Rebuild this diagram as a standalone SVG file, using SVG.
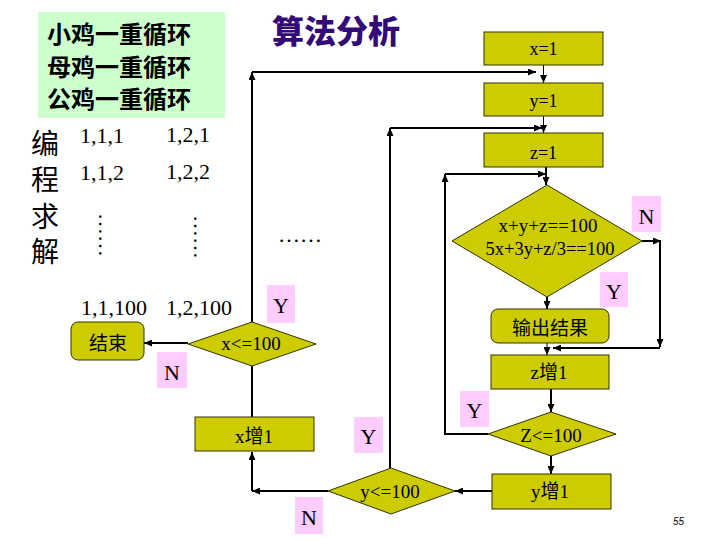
<svg xmlns="http://www.w3.org/2000/svg" width="720" height="540" viewBox="0 0 720 540">
<defs>
<marker id="ah" viewBox="0 0 8 7" refX="8" refY="3.5" markerWidth="8" markerHeight="7" markerUnits="userSpaceOnUse" orient="auto">
<path d="M0,0 L8,3.5 L0,7 z" fill="#000"/>
</marker>
</defs>
<style>
.box{fill:#CCCC00;stroke:#333300;stroke-width:1}
.lbl{fill:#FFCCFF}
.t{font-family:"Liberation Serif","Noto Sans CJK SC",serif;fill:#000;text-anchor:middle}
.cj{font-family:"Liberation Serif","Noto Sans CJK SC",sans-serif;fill:#000}
.num{font-family:"Liberation Serif",serif;font-size:22px;fill:#000}
.c{fill:none;stroke:#000;stroke-width:2}
.c1{fill:none;stroke:#000;stroke-width:1}
.a{marker-end:url(#ah)}
</style>
<rect width="720" height="540" fill="#fff"/>

<g id="green-note">
<rect x="38" y="12" width="187" height="106" fill="#CCFFCC"/>
<text x="47" y="43" font-family="'Noto Sans CJK SC',sans-serif" font-weight="bold" font-size="24">小鸡一重循环</text>
<text x="47" y="76" font-family="'Noto Sans CJK SC',sans-serif" font-weight="bold" font-size="24">母鸡一重循环</text>
<text x="47" y="108" font-family="'Noto Sans CJK SC',sans-serif" font-weight="bold" font-size="24">公鸡一重循环</text>
</g>
<g id="title">
<text x="272" y="43" font-family="'Noto Sans CJK SC',sans-serif" font-weight="900" font-size="32" fill="#330A77">算法分析</text>
</g>
<g id="side-text">
<text x="31" y="154" class="cj" font-size="28">编</text>
<text x="31" y="190" class="cj" font-size="28">程</text>
<text x="31" y="227" class="cj" font-size="28">求</text>
<text x="31" y="262" class="cj" font-size="28">解</text>
<text x="80" y="143" class="num">1,1,1</text>
<text x="166" y="142" class="num">1,2,1</text>
<text x="80" y="180" class="num">1,1,2</text>
<text x="166" y="179" class="num">1,2,2</text>
<text x="0" y="0" class="num" font-size="20" transform="translate(99,213) rotate(90)">……</text>
<text x="0" y="0" class="num" font-size="20" transform="translate(194,215) rotate(90)">……</text>
<text x="278" y="242" class="num" font-size="21">……</text>
<text x="81" y="315" class="num">1,1,100</text>
<text x="166" y="315" class="num">1,2,100</text>
</g>

<g id="connectors">
<line class="c1 a" x1="543.5" y1="65" x2="543.5" y2="83"/>
<line class="c1 a" x1="543.5" y1="116" x2="543.5" y2="133"/>
<line class="c a" x1="546" y1="167" x2="546" y2="185"/>
<line class="c a" x1="547" y1="297" x2="547" y2="309"/>
<line class="c1 a" x1="547" y1="343" x2="547" y2="355"/>
<line class="c a" x1="551" y1="389" x2="551" y2="412"/>
<line class="c a" x1="551" y1="456" x2="551" y2="474"/>
<line class="c a" x1="492" y1="491" x2="455" y2="491"/>
<line class="c a" x1="328" y1="491" x2="252" y2="491"/>
<line class="c a" x1="252" y1="491" x2="252" y2="452"/>
<line class="c" x1="252" y1="417" x2="252" y2="366"/>
<line class="c a" x1="252" y1="322" x2="252" y2="72"/>
<line class="c a" x1="252" y1="72" x2="536" y2="72"/>
<line class="c a" x1="188" y1="343" x2="144" y2="343"/>
<line class="c a" x1="390" y1="468" x2="390" y2="128"/>
<line class="c a" x1="390" y1="128" x2="542" y2="128"/>
<polyline class="c a" points="488,434 445,434 445,174"/>
<line class="c a" x1="445" y1="174" x2="546" y2="174"/>
<line class="c a" x1="642" y1="241" x2="661" y2="241"/>
<line class="c a" x1="660" y1="241" x2="660" y2="347"/>
<line class="c a" x1="660" y1="348" x2="553" y2="348"/>
</g>

<g id="node-x1">
<rect class="box" x="484" y="32" width="119" height="33"/>
<text class="t" x="543.5" y="55" font-size="18">x=1</text>
</g>
<g id="node-y1">
<rect class="box" x="484" y="83" width="119" height="33"/>
<text class="t" x="543.5" y="107" font-size="18">y=1</text>
</g>
<g id="node-z1">
<rect class="box" x="484" y="133" width="119" height="34"/>
<text class="t" x="543.5" y="159" font-size="18">z=1</text>
</g>
<g id="node-check">
<polygon class="box" points="547,185 642,241 547,297 452,241"/>
<text class="t" x="548" y="232" font-size="19">x+y+z==100</text>
<text class="t" x="550" y="255" font-size="18.5">5x+3y+z/3==100</text>
</g>
<g id="label-N1">
<rect class="lbl" x="632" y="196" width="29" height="36"/>
<text class="t" x="646.5" y="224" font-size="22">N</text>
</g>
<g id="label-Y1">
<rect class="lbl" x="600" y="272" width="28" height="35"/>
<text class="t" x="614" y="299" font-size="22">Y</text>
</g>
<g id="node-output">
<rect class="box" x="491" y="309" width="118" height="34" rx="7"/>
<text class="t" x="550" y="335" font-size="19">输出结果</text>
</g>
<g id="node-zinc">
<rect class="box" x="491" y="355" width="118" height="34"/>
<text class="t" x="549" y="379" font-size="19">z增1</text>
</g>
<g id="node-zcheck">
<polygon class="box" points="551,412 616,434 551,456 488,434"/>
<text class="t" x="551" y="442" font-size="19">Z&lt;=100</text>
</g>
<g id="label-Y2">
<rect class="lbl" x="460" y="391" width="29" height="36"/>
<text class="t" x="474.5" y="418" font-size="22">Y</text>
</g>
<g id="node-yinc">
<rect class="box" x="492" y="474" width="119" height="35"/>
<text class="t" x="550" y="498" font-size="19">y增1</text>
</g>
<g id="node-ycheck">
<polygon class="box" points="391,468 455,491 391,514 328,491"/>
<text class="t" x="390" y="498" font-size="19">y&lt;=100</text>
</g>
<g id="label-Y3">
<rect class="lbl" x="354" y="417" width="29" height="36"/>
<text class="t" x="368.5" y="444" font-size="22">Y</text>
</g>
<g id="label-N3">
<rect class="lbl" x="295" y="497" width="28" height="37"/>
<text class="t" x="309" y="525" font-size="22">N</text>
</g>
<g id="node-xinc">
<rect class="box" x="195" y="417" width="119" height="34"/>
<text class="t" x="254" y="443" font-size="19">x增1</text>
</g>
<g id="node-xcheck">
<polygon class="box" points="252,322 316,344 252,366 188,344"/>
<text class="t" x="251" y="350" font-size="19">x&lt;=100</text>
</g>
<g id="label-Y4">
<rect class="lbl" x="267" y="285" width="28" height="38"/>
<text class="t" x="281" y="313" font-size="22">Y</text>
</g>
<g id="label-N4">
<rect class="lbl" x="157" y="352" width="30" height="36"/>
<text class="t" x="172" y="380" font-size="22">N</text>
</g>
<g id="node-end">
<rect class="box" x="71" y="322" width="73" height="38" rx="7"/>
<text class="t" x="108" y="350" font-size="19">结束</text>
</g>
<text x="673" y="525" font-family="'Liberation Sans',sans-serif" font-size="10" font-style="italic">55</text>
</svg>
